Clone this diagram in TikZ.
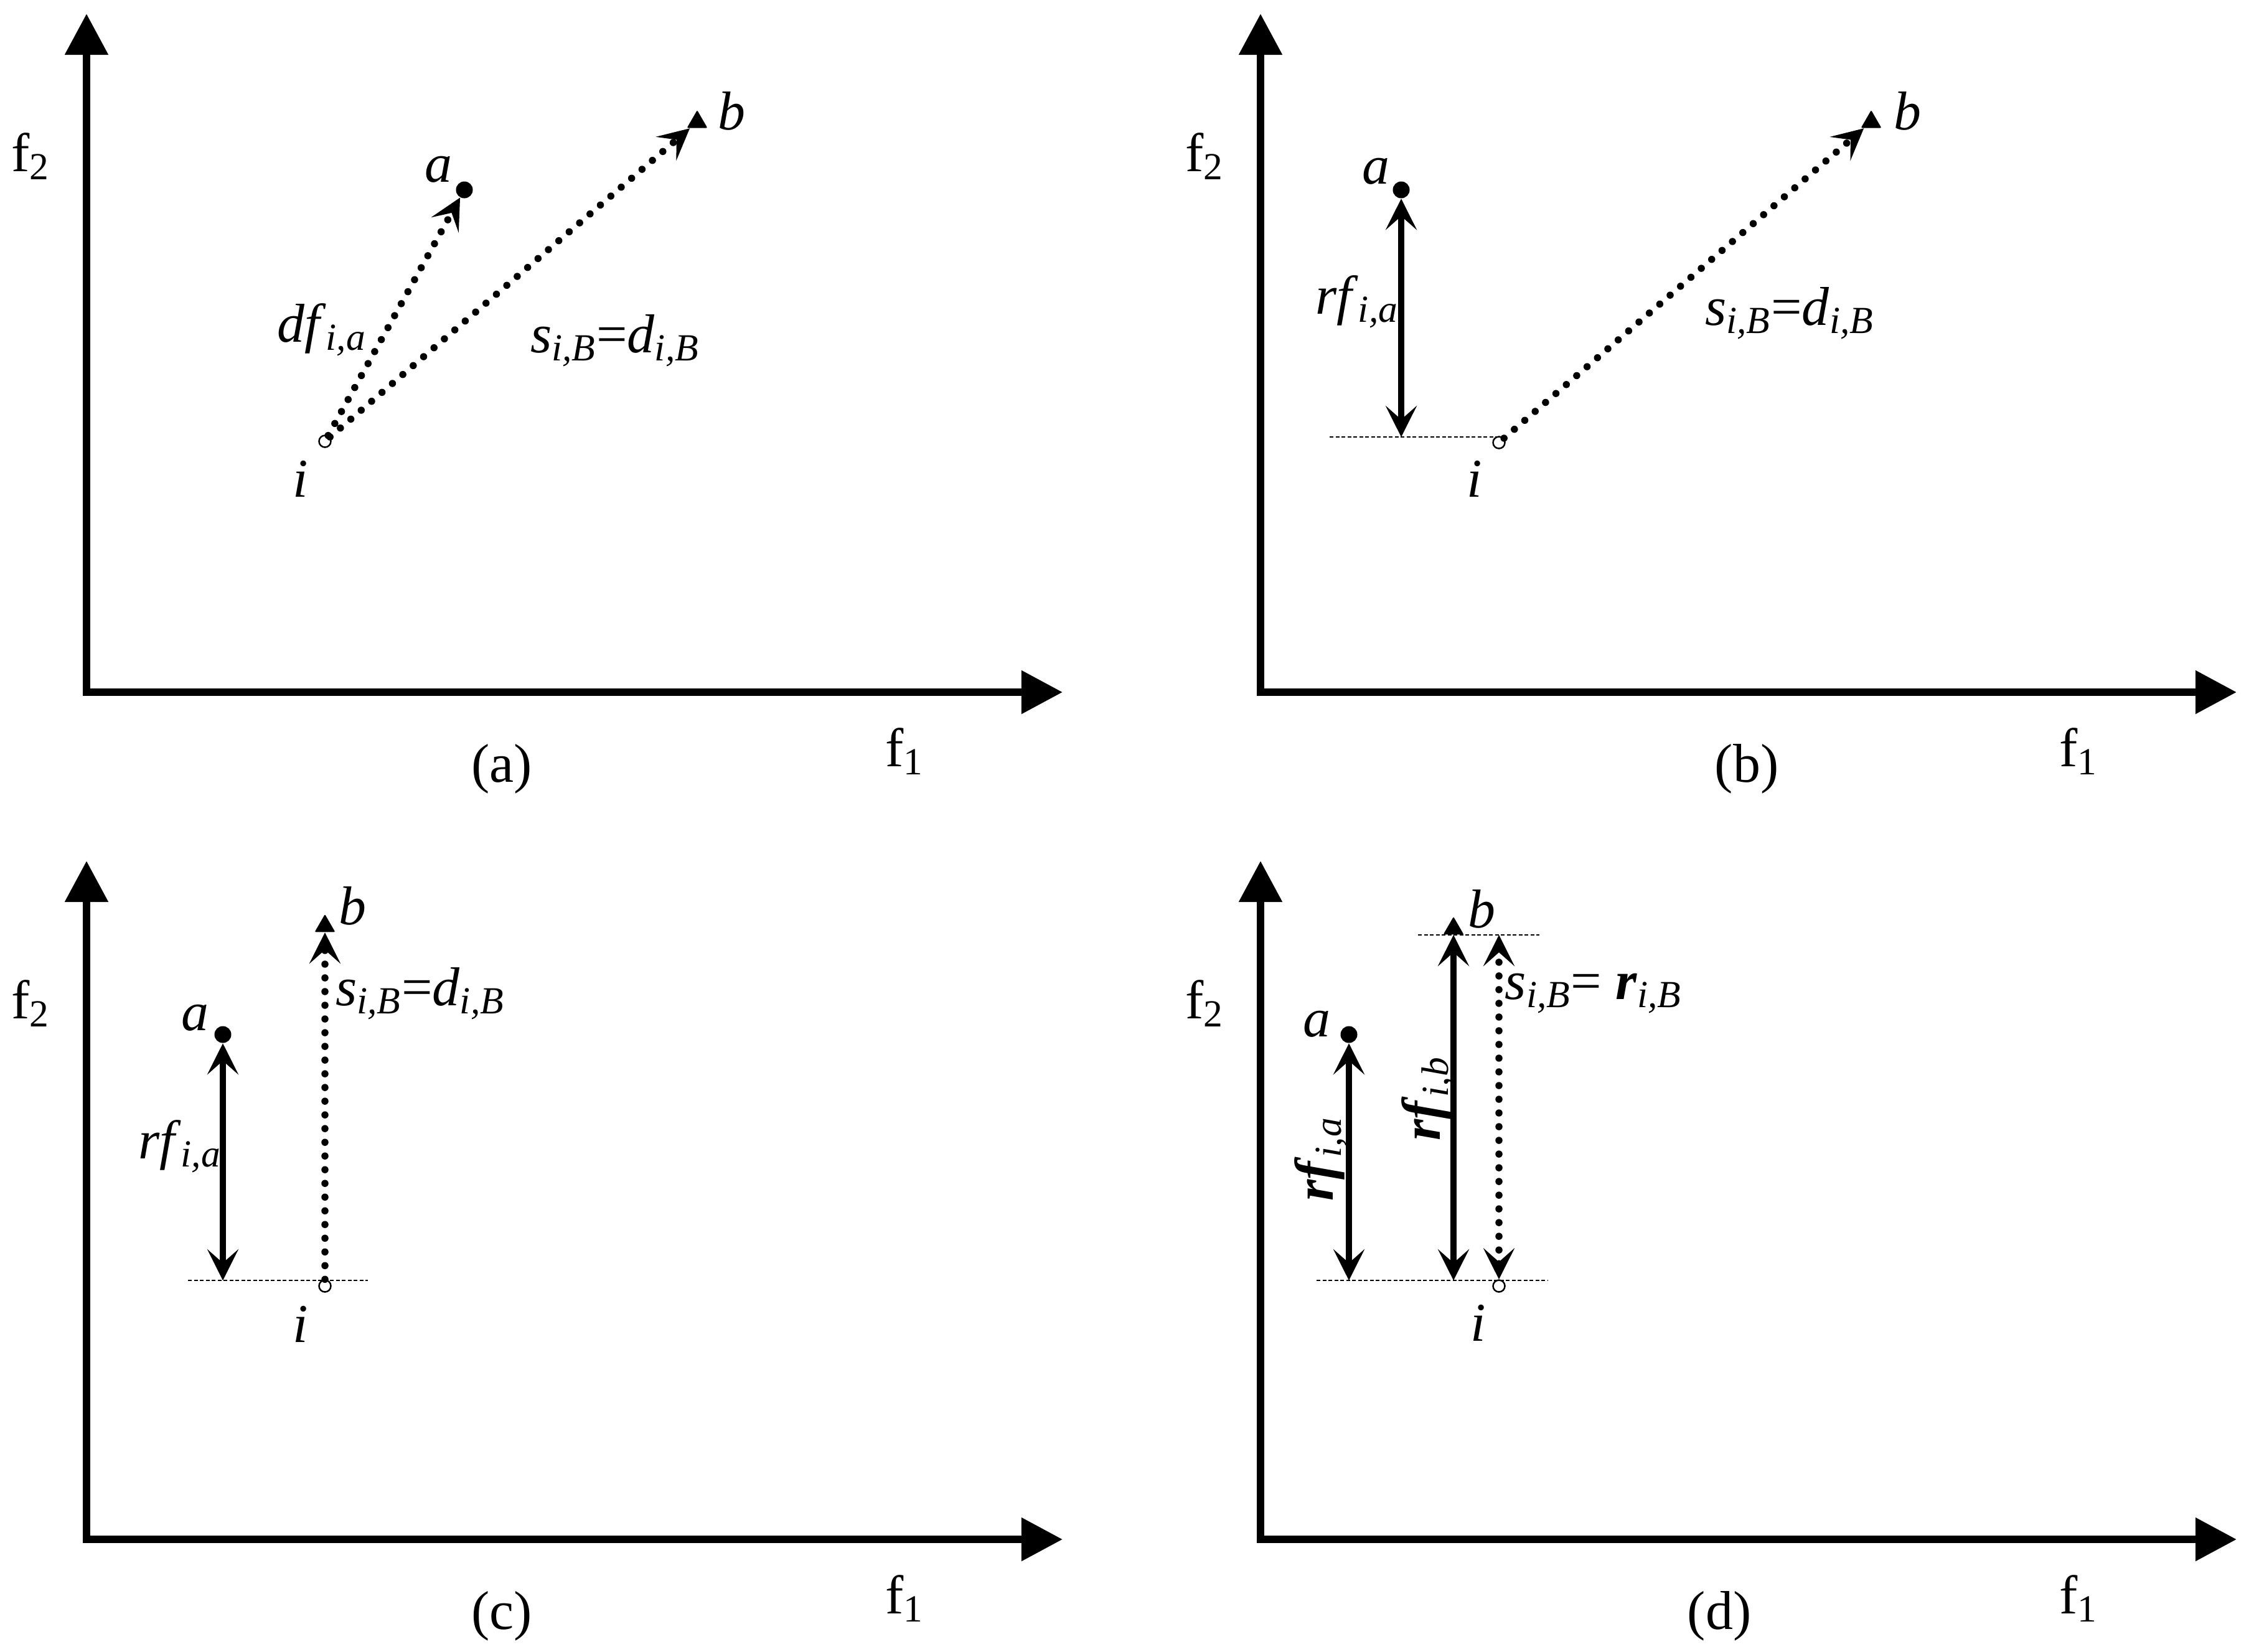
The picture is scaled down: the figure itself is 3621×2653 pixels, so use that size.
\documentclass[tikz,border=0pt]{standalone}
\usepackage{fontspec}
\usepackage{amsmath}
\setmainfont{Liberation Serif}
\usetikzlibrary{arrows.meta,shapes.geometric}
\tikzset{
  hd/.tip={Stealth[length=0.5cm,width=0.5cm,inset=0.22cm]},
  axtip/.tip={Triangle[length=0.66cm,width=0.67cm]},
  axisline/.style={line width=0.12cm, line join=miter, {axtip}-{axtip}},
  solidarr/.style={line width=0.1cm, {hd}-{hd}},
  dotline/.style={line width=0.115cm, line cap=round, dash pattern=on 0pt off 0.22cm},
  guide/.style={line width=0.025cm, dash pattern=on 0.06cm off 0.035cm},
  adot/.style={circle, fill=black, inner sep=0pt, minimum size=0.27cm},
  idot/.style={circle, draw=black, fill=white, line width=0.025cm, inner sep=0pt, minimum size=0.19cm},
  bdot/.style={regular polygon, regular polygon sides=3, fill=black, inner sep=0pt, minimum size=0.38cm, rounded corners=0.02cm},
  lbl/.style={inner sep=0pt, font=\fontsize{25}{30}\selectfont},
}
\newcommand{\sbl}[2]{\textit{#1}$_{\textit{#2}}$}
\begin{document}
\begin{tikzpicture}[x=0.01cm,y=-0.01cm]
\useasboundingbox (0,0) rectangle (3621,2653);
% ---------- panel (a)
\coordinate (oA) at (139,1112);
\coordinate (yA) at (139,22);
\coordinate (xA) at (1707,1112);
\draw[axisline] (yA) -- (oA) -- (xA);
\node[lbl] (f2A) at (49,251) {f$_{\text{2}}$};
\node[lbl] (f1A) at (1453,1207) {f$_{\text{1}}$};
\node[lbl] (capA) at (806,1235) {(a)};
\node[idot] (iA) at (522,709) {};
\node[adot] (aA) at (746,305) {};
\node[bdot] (bA) at (1120,196) {};
\draw[dotline,-{hd}] (iA) -- (aA);
\draw[dotline,-{hd}] (iA) -- (bA);
\node[lbl] (laA) at (704,272) {\textit{a}};
\node[lbl] (lbA) at (1175,178) {\textit{b}};
\node[lbl] (liA) at (483,769) {\textit{i}};
\node[lbl] (ldfA) at (517,530) {\sbl{df}{i,a}};
\node[lbl] (lsA) at (988,547) {\sbl{s}{i,B}=\sbl{d}{i,B}};
% ---------- panel (b)
\coordinate (oB) at (2025,1112);
\coordinate (yB) at (2025,22);
\coordinate (xB) at (3593,1112);
\draw[axisline] (yB) -- (oB) -- (xB);
\node[lbl] (f2B) at (1935,251) {f$_{\text{2}}$};
\node[lbl] (f1B) at (3339,1207) {f$_{\text{1}}$};
\node[lbl] (capB) at (2806,1235) {(b)};
\node[idot] (iB) at (2408,711) {};
\node[adot] (aB) at (2251,305) {};
\node[bdot] (bB) at (3006,196) {};
\coordinate (glB) at (2136,702);
\draw[guide] (glB) -- (glB -| iB.north);
\draw[solidarr] (aB) -- (aB |- glB);
\draw[dotline,-{hd}] (iB) -- (bB);
\node[lbl] (laB) at (2210,275) {\textit{a}};
\node[lbl] (lbB) at (3064,178) {\textit{b}};
\node[lbl] (liB) at (2369,769) {\textit{i}};
\node[lbl] (lrfB) at (2180,485) {\sbl{rf}{i,a}};
\node[lbl] (lsB) at (2875,503) {\sbl{s}{i,B}=\sbl{d}{i,B}};
% ---------- panel (c)
\coordinate (oC) at (139,2473);
\coordinate (yC) at (139,1383);
\coordinate (xC) at (1707,2473);
\draw[axisline] (yC) -- (oC) -- (xC);
\node[lbl] (f2C) at (49,1612) {f$_{\text{2}}$};
\node[lbl] (f1C) at (1453,2568) {f$_{\text{1}}$};
\node[lbl] (capC) at (806,2596) {(c)};
\coordinate (glC) at (302,2057);
\coordinate (grC) at (591,2057);
\draw[guide] (glC) -- (grC);
\node[idot] (iC) at (522,2066) {};
\node[adot] (aC) at (358,1662) {};
\node[bdot,anchor=side 2] (bC) at (522,1498) {};
\draw[solidarr] (aC) -- (aC |- glC);
\draw[dotline,-{hd}] (iC) -- (bC);
\node[lbl] (laC) at (313,1635) {\textit{a}};
\node[lbl] (lbC) at (566,1455) {\textit{b}};
\node[lbl] (liC) at (483,2127) {\textit{i}};
\node[lbl] (lrfC) at (289,1842) {\sbl{rf}{i,a}};
\node[lbl] (lsC) at (675,1596) {\sbl{s}{i,B}=\sbl{d}{i,B}};
% ---------- panel (d)
\coordinate (oD) at (2025,2473);
\coordinate (yD) at (2025,1383);
\coordinate (xD) at (3593,2473);
\draw[axisline] (yD) -- (oD) -- (xD);
\node[lbl] (f2D) at (1935,1612) {f$_{\text{2}}$};
\node[lbl] (f1D) at (3339,2568) {f$_{\text{1}}$};
\node[lbl] (capD) at (2762,2596) {(d)};
\coordinate (glD) at (2115,2057);
\coordinate (grD) at (2486,2057);
\coordinate (tlD) at (2278,1502);
\coordinate (trD) at (2473,1502);
\draw[guide] (glD) -- (grD);
\draw[guide] (tlD) -- (trD);
\node[idot] (iD) at (2408,2066) {};
\node[adot] (aD) at (2167,1662) {};
\node[bdot,anchor=side 2] (bD) at (2335,1502) {};
\draw[solidarr] (aD) -- (aD |- glD);
\draw[solidarr] (bD) -- (bD |- glD);
\draw[dotline,{hd}-{hd}] (iD) -- (iD |- tlD);
\node[lbl] (laD) at (2115,1645) {\textit{a}};
\node[lbl] (lbD) at (2380,1460) {\textit{b}};
\node[lbl] (liD) at (2375,2125) {\textit{i}};
\node[lbl,rotate=90] (lrfaD) at (2122,1862) {\textbf{\textit{rf}}$_{\textit{i,a}}$};
\node[lbl,rotate=90] (lrfbD) at (2294,1765) {\textbf{\textit{rf}}$_{\textit{i,b}}$};
\node[lbl] (lsD) at (2560,1596) {\sbl{s}{i,B}= \textbf{\textit{r}}$_{\textit{i,B}}$};
\end{tikzpicture}
\end{document}
